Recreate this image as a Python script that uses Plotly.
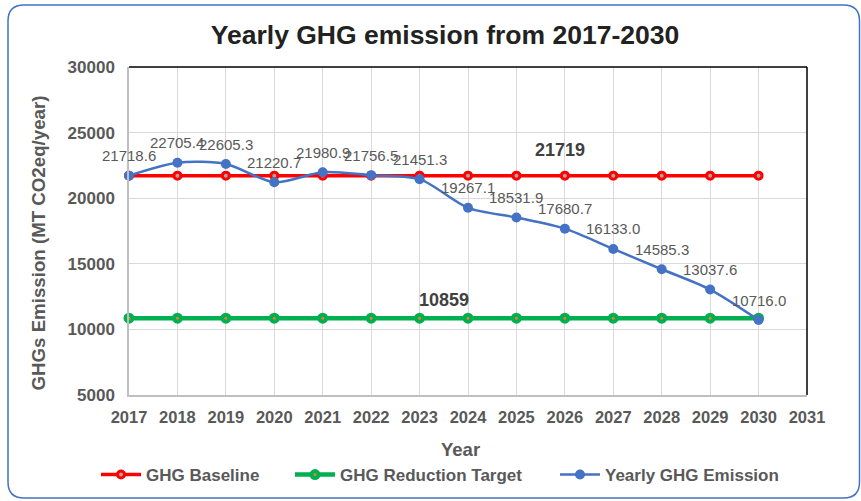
import plotly.graph_objects as go

years = [2017, 2018, 2019, 2020, 2021, 2022, 2023, 2024, 2025, 2026, 2027, 2028, 2029, 2030]
baseline = [21719] * 14
target = [10859] * 14
emission = [21718.6, 22705.4, 22605.3, 21220.7, 21980.9, 21756.5, 21451.3,
            19267.1, 18531.9, 17680.7, 16133.0, 14585.3, 13037.6, 10716.0]
emission_labels = [f"{v:.1f}" for v in emission]
x_ticks = list(range(2017, 2032))
y_ticks = [5000, 10000, 15000, 20000, 25000, 30000]

W, H = 861, 501
L, R, T, B = 129, 807, 67, 395

def px_x(p):
    return (p - L) / (R - L)

def px_y(p):
    return (B - p) / (B - T)

FONT = "Liberation Sans, Arial, sans-serif"
GRAY = "#595959"

fig = go.Figure()
fig.add_trace(go.Scatter(
    x=years, y=baseline, name="GHG Baseline", mode="lines+markers",
    line=dict(color="#FF0000", width=3.5),
    marker=dict(symbol="circle", size=7, color="#A5A5A5", line=dict(color="#FF0000", width=3)),
    cliponaxis=False, legend="legend"))
fig.add_trace(go.Scatter(
    x=years, y=target, name="GHG Reduction Target", mode="lines+markers",
    line=dict(color="#00B050", width=4.5),
    marker=dict(symbol="circle", size=7, color="#ED7D31", line=dict(color="#00B050", width=4)),
    cliponaxis=False, legend="legend2"))
fig.add_trace(go.Scatter(
    x=years, y=emission, name="Yearly GHG Emission", mode="lines+markers",
    line=dict(color="#4472C4", width=2.5, shape="spline", smoothing=0.8),
    marker=dict(symbol="circle", size=10, color="#4472C4"),
    cliponaxis=False, legend="legend3"))

annotations = []
for x, y, t in zip(years, emission, emission_labels):
    annotations.append(dict(x=x, y=y, text=t, showarrow=False, yshift=20,
                            font=dict(family=FONT, size=15, color=GRAY)))
annotations.append(dict(x=2025.9, y=baseline[0], text="<b>21719</b>", showarrow=False, yshift=26,
                        font=dict(family=FONT, size=18, color="#404040")))
annotations.append(dict(x=2023.5, y=target[0], text="<b>10859</b>", showarrow=False, yshift=18,
                        font=dict(family=FONT, size=18, color="#404040")))
annotations.append(dict(xref="paper", yref="paper", x=px_x(460), y=px_y(449), text="<b>Year</b>",
                        showarrow=False, xanchor="center", yanchor="middle",
                        font=dict(family=FONT, size=18.5, color=GRAY)))
annotations.append(dict(xref="paper", yref="paper", x=px_x(38), y=px_y(243.5),
                        text="<b>GHGs Emission (MT CO2eq/year)</b>", textangle=-90,
                        showarrow=False, xanchor="center", yanchor="middle",
                        font=dict(family=FONT, size=18.7, color=GRAY)))

# rounded outer border
x0, x1 = px_x(8), px_x(859.5)
y0, y1 = px_y(498), px_y(5)
rx = 16 / (R - L)
ry = 16 / (B - T)
path = (f"M {x0+rx},{y1} L {x1-rx},{y1} Q {x1},{y1} {x1},{y1-ry} "
        f"L {x1},{y0+ry} Q {x1},{y0} {x1-rx},{y0} L {x0+rx},{y0} "
        f"Q {x0},{y0} {x0},{y0+ry} L {x0},{y1-ry} Q {x0},{y1} {x0+rx},{y1} Z")
shapes = [
    dict(type="path", xref="paper", yref="paper", path=path,
         line=dict(color="#4472C4", width=1.5), layer="below"),
    dict(type="line", xref="paper", yref="paper", x0=0, x1=1, y0=1, y1=1,
         line=dict(color="#000000", width=1.5)),
    dict(type="line", xref="paper", yref="paper", x0=1, x1=1, y0=0, y1=1,
         line=dict(color="#000000", width=1.5)),
]

leg_font = dict(family=FONT, size=17, color=GRAY, weight="bold")
def leg(xpx):
    return dict(orientation="h", xref="container", yref="container",
                x=xpx / W, y=1 - 475 / H, xanchor="left", yanchor="middle",
                font=leg_font, bgcolor="rgba(0,0,0,0)", itemclick=False, itemwidth=40,
                borderwidth=0)

fig.update_layout(
    width=W, height=H, autosize=False,
    margin=dict(l=L, r=W - R, t=T, b=H - B, pad=0, autoexpand=False),
    paper_bgcolor="white", plot_bgcolor="white",
    title=dict(text="<b>Yearly GHG emission from 2017-2030</b>", x=445 / W, y=1 - 35 / H,
               xref="container", yref="container", xanchor="center", yanchor="middle",
               font=dict(family=FONT, size=26.5, color="#222222")),
    xaxis=dict(range=[2017, 2031], tickvals=x_ticks, ticktext=[str(v) for v in x_ticks],
               showgrid=True, gridcolor="#D9D9D9", gridwidth=1,
               showline=True, linecolor="#BFBFBF", linewidth=1.5,
               ticks="", ticklabelstandoff=6, zeroline=False, automargin=False,
               tickfont=dict(family=FONT, size=16.5, color=GRAY, weight="bold")),
    yaxis=dict(range=[5000, 30000], tickvals=y_ticks, ticktext=[str(v) for v in y_ticks],
               showgrid=True, gridcolor="#D9D9D9", gridwidth=1,
               showline=True, linecolor="#BFBFBF", linewidth=1.5,
               ticks="", ticklabelstandoff=9, zeroline=False, automargin=False,
               tickfont=dict(family=FONT, size=17, color=GRAY, weight="bold")),
    showlegend=True,
    legend=leg(96),
    legend2=leg(290),
    legend3=leg(555),
    annotations=annotations,
    shapes=shapes,
)

fig.write_html("out.html", config={"displayModeBar": False},
               post_script="document.body.style.margin='0';document.body.style.overflow='hidden';")
